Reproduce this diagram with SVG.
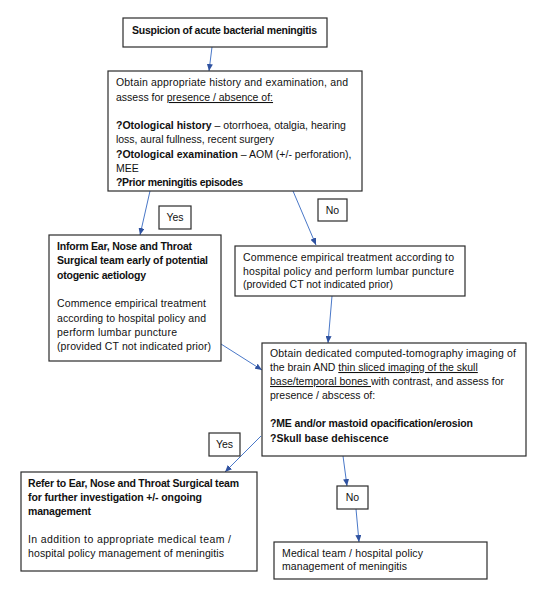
<svg xmlns="http://www.w3.org/2000/svg" width="539" height="592" viewBox="0 0 539 592">
<defs>
<marker id="ah" markerWidth="7" markerHeight="6" refX="7" refY="3" orient="auto" markerUnits="userSpaceOnUse">
<path d="M0,0 L7,3 L0,6 Z" fill="#2f52a0"/>
</marker>
<style>
.box{fill:#fff;stroke:#2b2b2b;stroke-width:1.2}
.t{font-family:"Liberation Sans",Arial,sans-serif;font-size:10.5px;fill:#111}
.b{font-weight:bold}
.u{text-decoration:underline}
.c{text-anchor:middle}
.conn{stroke:#4a78c8;stroke-width:1;fill:none;marker-end:url(#ah)}
</style>
</defs>
<rect width="539" height="592" fill="#fff"/>
<g id="connectors">
<line class="conn" x1="212" y1="47" x2="209" y2="71"/>
<line class="conn" x1="150" y1="191" x2="140" y2="235"/>
<line class="conn" x1="293" y1="191" x2="316" y2="245"/>
<line class="conn" x1="332" y1="296" x2="328" y2="343"/>
<line class="conn" x1="221" y1="344" x2="262" y2="370"/>
<line class="conn" x1="261" y1="436" x2="225" y2="472"/>
<line class="conn" x1="343" y1="456" x2="347" y2="486"/>
<line class="conn" x1="356" y1="509" x2="359" y2="542"/>
</g>
<g id="n1">
<rect class="box" x="123" y="18" width="204" height="29"/>
<text class="t b" x="132" y="34" textLength="185">Suspicion of acute bacterial meningitis</text>
</g>
<g id="n2">
<rect class="box" x="108" y="71" width="254" height="120"/>
<text class="t" x="116" y="86" textLength="232">Obtain appropriate history and examination,  and</text>
<text class="t" x="116" y="101">assess for <tspan class="u">presence / absence of:</tspan></text>
<text class="t" x="116" y="129"><tspan class="b">?Otological history</tspan> – otorrhoea, otalgia, hearing</text>
<text class="t" x="116" y="143" textLength="158">loss, aural fullness, recent surgery</text>
<text class="t" x="116" y="158"><tspan class="b">?Otological examination</tspan> – AOM (+/- perforation),</text>
<text class="t" x="116" y="172">MEE</text>
<text class="t b" x="116" y="186" textLength="127">?Prior meningitis episodes</text>
</g>
<g id="yes1">
<rect class="box" x="159" y="206" width="32" height="23"/>
<text class="t c" x="175" y="221">Yes</text>
</g>
<g id="no1">
<rect class="box" x="318" y="199" width="29" height="22"/>
<text class="t c" x="332.5" y="214">No</text>
</g>
<g id="n3">
<rect class="box" x="49" y="235" width="172" height="126"/>
<text class="t b" x="57" y="250" textLength="135">Inform Ear, Nose and Throat</text>
<text class="t b" x="57" y="264" textLength="151">Surgical team early of potential</text>
<text class="t b" x="57" y="279" textLength="89">otogenic aetiology</text>
<text class="t" x="57" y="307" textLength="149">Commence empirical treatment</text>
<text class="t" x="57" y="322" textLength="149">according to hospital policy and</text>
<text class="t" x="57" y="336" textLength="120">perform lumbar puncture</text>
<text class="t" x="57" y="350" textLength="154">(provided CT not indicated prior)</text>
</g>
<g id="n4">
<rect class="box" x="235" y="246" width="230" height="50"/>
<text class="t" x="243" y="261" textLength="211">Commence empirical treatment according to</text>
<text class="t" x="243" y="275" textLength="211">hospital policy and perform lumbar puncture</text>
<text class="t" x="243" y="288" textLength="150">(provided CT not indicated prior)</text>
</g>
<g id="n5">
<rect class="box" x="262" y="343" width="264" height="113"/>
<text class="t" x="270" y="357" textLength="246">Obtain dedicated computed-tomography imaging of</text>
<text class="t" x="270" y="371">the brain AND <tspan class="u">thin sliced imaging of the skull</tspan></text>
<text class="t" x="270" y="385"><tspan class="u">base/temporal bones </tspan>with contrast, and assess for</text>
<text class="t" x="270" y="399">presence / abscess of:</text>
<text class="t b" x="270" y="427" textLength="203">?ME and/or mastoid opacification/erosion</text>
<text class="t b" x="270" y="442">?Skull base dehiscence</text>
</g>
<g id="yes2">
<rect class="box" x="209" y="433" width="31" height="23"/>
<text class="t c" x="224.5" y="448">Yes</text>
</g>
<g id="no2">
<rect class="box" x="337" y="486" width="31" height="23"/>
<text class="t c" x="352.5" y="501">No</text>
</g>
<g id="n6">
<rect class="box" x="21" y="472" width="236" height="99"/>
<text class="t b" x="28" y="487" textLength="211">Refer to Ear, Nose and Throat Surgical team</text>
<text class="t b" x="28" y="501" textLength="174">for further investigation +/- ongoing</text>
<text class="t b" x="28" y="515" textLength="63">management</text>
<text class="t" x="28" y="543" textLength="203">In addition to appropriate medical team /</text>
<text class="t" x="28" y="557" textLength="196">hospital policy management of meningitis</text>
</g>
<g id="n7">
<rect class="box" x="274" y="542" width="213" height="37"/>
<text class="t" x="282" y="557" textLength="141">Medical team / hospital policy</text>
<text class="t" x="282" y="570" textLength="125">management of meningitis</text>
</g>
</svg>
